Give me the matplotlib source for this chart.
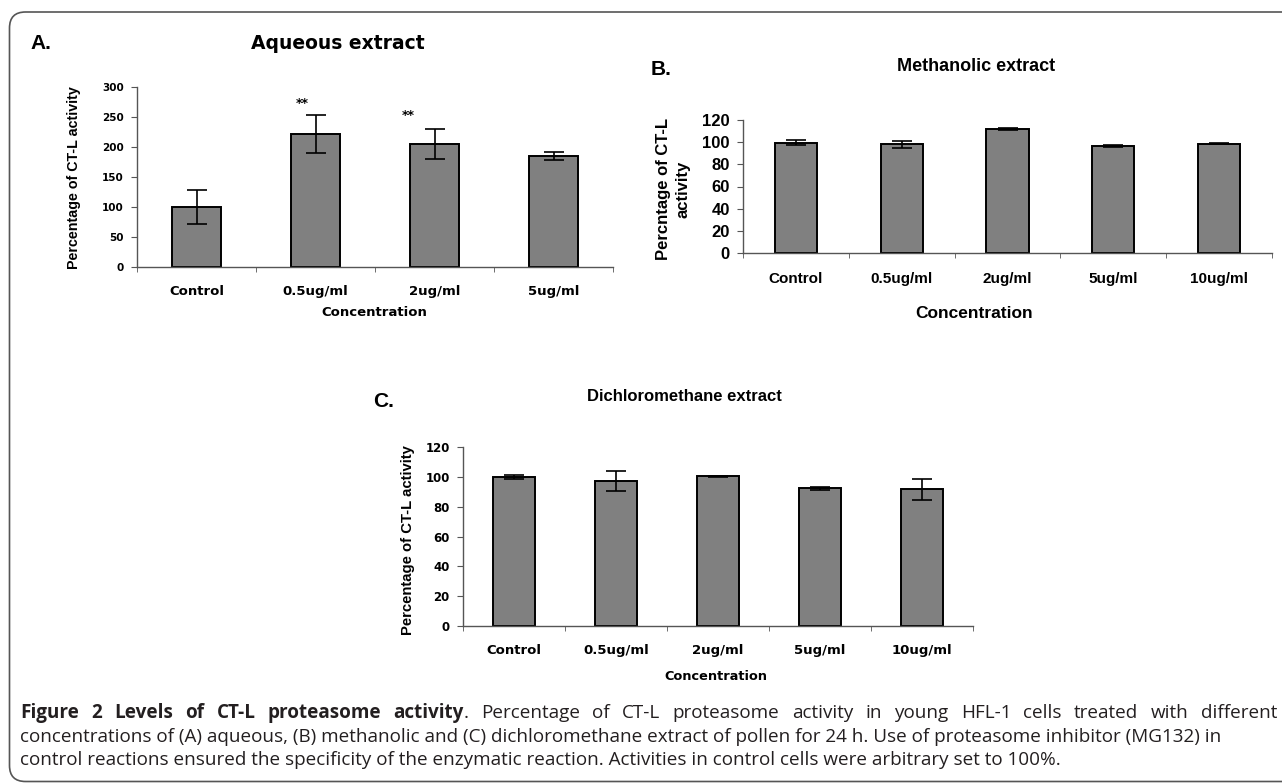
import matplotlib
matplotlib.use('Agg')
import matplotlib.pyplot as plt
from matplotlib.patches import FancyBboxPatch
from matplotlib.transforms import IdentityTransform
import numpy as np

W, H = 1282, 783

# ---------------- data ----------------
a_categories = ['Control', '0.5ug/ml', '2ug/ml', '5ug/ml']
a_values = [100, 222, 205, 185]
a_errors = [28, 32, 25, 7]
a_stars = ['', '**', '**', '']
a_star_y = [0, 273, 253, 0]
a_yticks = [0, 50, 100, 150, 200, 250, 300]

b_categories = ['Control', '0.5ug/ml', '2ug/ml', '5ug/ml', '10ug/ml']
b_values = [99.5, 98, 112, 96.5, 98.5]
b_errors = [2.5, 3.5, 1.2, 0.8, 0.3]
b_yticks = [0, 20, 40, 60, 80, 100, 120]

c_categories = ['Control', '0.5ug/ml', '2ug/ml', '5ug/ml', '10ug/ml']
c_values = [100, 97.4, 100.5, 92.3, 91.6]
c_errors = [1.4, 6.7, 0.3, 1.0, 7.0]
c_yticks = [0, 20, 40, 60, 80, 100, 120]

caption_bold = 'Figure 2 Levels of CT-L proteasome activity'
caption_line1 = '. Percentage of CT-L proteasome activity in young HFL-1 cells treated with different'
caption_line2 = ('concentrations of (A) aqueous, (B) methanolic and (C) dichloromethane extract '
                 'of pollen for 24 h. Use of proteasome inhibitor (MG132) in')
caption_line3 = ('control reactions ensured the specificity of the enzymatic reaction. '
                 'Activities in control cells were arbitrary set to 100%.')

WIDE = ['DejaVu Sans']
ARIAL = ['Liberation Sans', 'DejaVu Sans']

fig = plt.figure(figsize=(W / 100, H / 100), dpi=100)
fig.patch.set_facecolor('white')


def fx(px):
    return px / W


def fy(py):
    return 1 - py / H


def add_ax(l, t, r, b):
    return fig.add_axes([l / W, 1 - b / H, (r - l) / W, (b - t) / H])


def panel(box, cats, vals, errs, yticks, bw, xfam, xsize, yfam, ysize, cap, xpad):
    ax = add_ax(*box)
    n = len(cats)
    x = np.arange(n)
    ax.bar(x, vals, width=bw, color='#808080', edgecolor='black', linewidth=1.4,
           yerr=errs, capsize=cap,
           error_kw=dict(elinewidth=1.2, capthick=1.2, ecolor='black'), zorder=2)
    ax.set_xlim(-0.5, n - 0.5)
    ax.set_ylim(0, yticks[-1])
    for s in ['top', 'right']:
        ax.spines[s].set_visible(False)
    for s in ['left', 'bottom']:
        ax.spines[s].set_linewidth(1.0)
        ax.spines[s].set_color('#555555')
    ax.set_yticks(yticks)
    ax.set_yticklabels([str(v) for v in yticks], family=yfam, fontweight='bold', fontsize=ysize)
    ax.set_xticks(x)
    ax.set_xticklabels(cats, family=xfam, fontweight='bold', fontsize=xsize)
    ax.set_xticks(np.arange(n + 1) - 0.5, minor=True)
    ax.tick_params(axis='x', which='major', length=0, pad=xpad)
    ax.tick_params(axis='x', which='minor', length=3.5, direction='out', color='#555555')
    ax.tick_params(axis='y', length=4.5, direction='out', pad=5, color='#555555')
    ax.set_facecolor('none')
    return ax


# ---------------- Panel A ----------------
axA = panel((137, 87, 613, 267), a_categories, a_values, a_errors, a_yticks,
            0.42, WIDE, 9.5, WIDE, 7.5, 7, 13)
for i, (s, yv) in enumerate(zip(a_stars, a_star_y)):
    if s:
        off = -0.11 if i == 1 else -0.22
        axA.text(i + off, yv, s, ha='center', va='center', fontsize=9,
                 fontweight='bold', family=WIDE)
fig.text(fx(30), fy(49), 'A.', fontsize=15, fontweight='bold', family=ARIAL, va='baseline')
fig.text(fx(338), fy(49), 'Aqueous extract', fontsize=13.5, fontweight='bold',
         family=WIDE, ha='center', va='baseline')
fig.text(fx(74), fy(178), 'Percentage of CT-L activity', rotation=90, fontsize=10.3,
         fontweight='bold', family=ARIAL, ha='center', va='center')
fig.text(fx(374), fy(312), 'Concentration', fontsize=9.5, fontweight='bold',
         family=WIDE, ha='center', va='center')

# ---------------- Panel B ----------------
axB = panel((743, 120, 1272, 253), b_categories, b_values, b_errors, b_yticks,
            0.40, ARIAL, 11, ARIAL, 12, 7, 14)
fig.text(fx(651), fy(75), 'B.', fontsize=15, fontweight='bold', family=ARIAL, va='baseline')
fig.text(fx(976), fy(71), 'Methanolic extract', fontsize=13, fontweight='bold',
         family=ARIAL, ha='center', va='baseline')
fig.text(fx(673), fy(189), 'Percntage of CT-L\nactivity', rotation=90, fontsize=12,
         fontweight='bold', family=ARIAL, ha='center', va='center', linespacing=1.4)
fig.text(fx(974), fy(313), 'Concentration', fontsize=12.5, fontweight='bold',
         family=ARIAL, ha='center', va='center')

# ---------------- Panel C ----------------
axC = panel((463, 447, 973, 626), c_categories, c_values, c_errors, c_yticks,
            0.41, WIDE, 9.5, WIDE, 8.5, 7, 13)
fig.text(fx(373), fy(407), 'C.', fontsize=15, fontweight='bold', family=ARIAL, va='baseline')
fig.text(fx(684), fy(401), 'Dichloromethane extract', fontsize=12, fontweight='bold',
         family=ARIAL, ha='center', va='baseline')
fig.text(fx(408), fy(540), 'Percentage of CT-L activity', rotation=90, fontsize=10.7,
         fontweight='bold', family=ARIAL, ha='center', va='center')
fig.text(fx(716), fy(677), 'Concentration', fontsize=9.3, fontweight='bold',
         family=WIDE, ha='center', va='center')

# ---------------- border ----------------
border = FancyBboxPatch((9.5, 1.5), 1300, H - 12 - 1.5,
                        boxstyle='round,pad=0,rounding_size=16',
                        transform=IdentityTransform(), facecolor='none',
                        edgecolor='#555555', linewidth=1.2)
fig.add_artist(border)

# ---------------- caption ----------------
CAP = ['Open Sans', 'DejaVu Sans']
CAPCOL = '#231f20'
renderer = fig.canvas.get_renderer()

# fit the size so that line 2 spans the same width as in the figure
probe = fig.text(0, 0, caption_line2, fontsize=12, family=CAP)
wprobe = probe.get_window_extent(renderer=renderer).width
probe.remove()
cap_size = 12 * 1198 / wprobe

fig.text(fx(20), fy(741.5), caption_line2, fontsize=cap_size, family=CAP,
         va='baseline', color=CAPCOL)
fig.text(fx(20), fy(765), caption_line3, fontsize=cap_size, family=CAP,
         va='baseline', color=CAPCOL)

# line 1 is justified between x=20 and x=1277
tokens = []  # (text, weight, gap_before)
for k, w in enumerate(caption_bold.split(' ')):
    tokens.append((w, 'bold', k > 0))
rest = caption_line1.split(' ')
tokens.append((rest[0], 'normal', False))
for w in rest[1:]:
    tokens.append((w, 'normal', True))

arts = []
total = 0.0
for txt, wt, gap in tokens:
    t = fig.text(0, fy(718), txt, fontsize=cap_size, fontweight=wt, family=CAP,
                 va='baseline', color=CAPCOL)
    wdt = t.get_window_extent(renderer=renderer).width
    arts.append((t, wdt, gap))
    total += wdt
ngaps = sum(1 for _, _, g in arts if g)
gapw = max((1277 - 20 - total) / ngaps, 3.0)
xpos = 20.0
for t, wdt, gap in arts:
    if gap:
        xpos += gapw
    t.set_x(xpos / W)
    xpos += wdt

fig.savefig('out.png', dpi=100, facecolor='white')
